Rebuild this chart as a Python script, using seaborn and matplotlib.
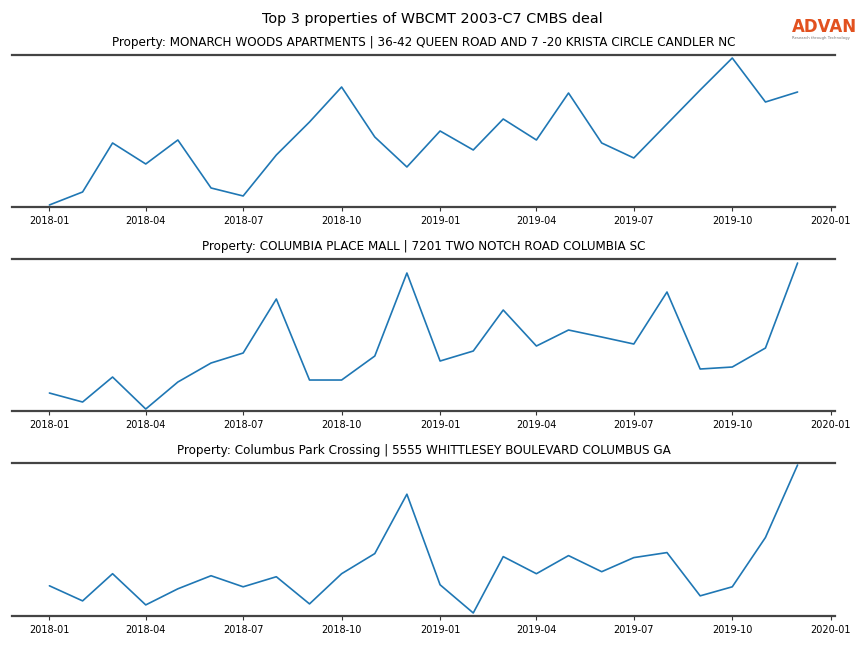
import matplotlib
matplotlib.use("Agg")
import matplotlib.pyplot as plt
import matplotlib.dates as mdates
import pandas as pd
import seaborn as sns

# monthly values (no y axis shown, so units are relative)
months = pd.date_range("2018-01-01", "2019-12-01", freq="MS")

monarch_woods = [2, 15, 64, 43, 67, 19, 11, 52, 85, 120, 70, 40,
                 76, 57, 88, 67, 114, 64, 49, 83, 117, 149, 105, 115]
columbia_place = [18, 9, 34, 2, 29, 48, 58, 112, 31, 31, 55, 138,
                  50, 60, 101, 65, 81, 74, 67, 119, 42, 44, 63, 148]
columbus_park = [30, 15, 42, 11, 27, 40, 29, 39, 12, 42, 62, 121,
                 31, 3, 59, 42, 60, 44, 58, 63, 20, 29, 78, 150]

titles = [
    "Property: MONARCH WOODS APARTMENTS | 36-42 QUEEN ROAD AND 7 -20 KRISTA CIRCLE CANDLER NC",
    "Property: COLUMBIA PLACE MALL | 7201 TWO NOTCH ROAD COLUMBIA SC",
    "Property: Columbus Park Crossing | 5555 WHITTLESEY BOULEVARD COLUMBUS GA",
]
series = [monarch_woods, columbia_place, columbus_park]

sns.set_style("white")
plt.rcParams['font.family'] = ['DejaVu Sans']
plt.rcParams['text.color'] = 'black'
plt.rcParams['axes.titlecolor'] = 'black'

fig = plt.figure(figsize=(8.64, 6.48), dpi=100)
boxes = [(0.6806, 0.9151), (0.3657, 0.6003), (0.0494, 0.2855)]

for (bot, top), title, vals in zip(boxes, titles, series):
    ax = fig.add_axes([0.0139, bot, 0.9525, top - bot])
    df = pd.DataFrame({"month": months, "value": vals})
    sns.lineplot(data=df, x="month", y="value", ax=ax, color="#1f77b4", linewidth=1.2)
    ax.set_ylim(0, 152)
    ax.set_yticks([])
    ax.set_xlabel("")
    ax.set_ylabel("")
    ax.set_title(title, fontsize=8.65, color="black", pad=6.5)
    ax.xaxis.set_major_locator(mdates.MonthLocator(bymonth=[1, 4, 7, 10]))
    ax.xaxis.set_major_formatter(mdates.DateFormatter("%Y-%m"))
    ax.tick_params(axis="x", labelsize=7, length=3, width=0.8, bottom=True, colors="#333333", labelcolor="black")
    for side in ["left", "right"]:
        ax.spines[side].set_visible(False)
    for side in ["top", "bottom"]:
        ax.spines[side].set_color("#444444")
        ax.spines[side].set_linewidth(1.6)

fig.suptitle("Top 3 properties of WBCMT 2003-C7 CMBS deal", fontsize=10.4, y=0.981, color="black")

# logo
fig.text(0.9165, 0.958, "ADVAN", color="#E2511F", fontsize=12, fontweight="bold", ha="left", va="center")
fig.text(0.9165, 0.941, "Research through Technology", color="#777777", fontsize=2.8, ha="left", va="center")

fig.savefig("out.png", dpi=100)
